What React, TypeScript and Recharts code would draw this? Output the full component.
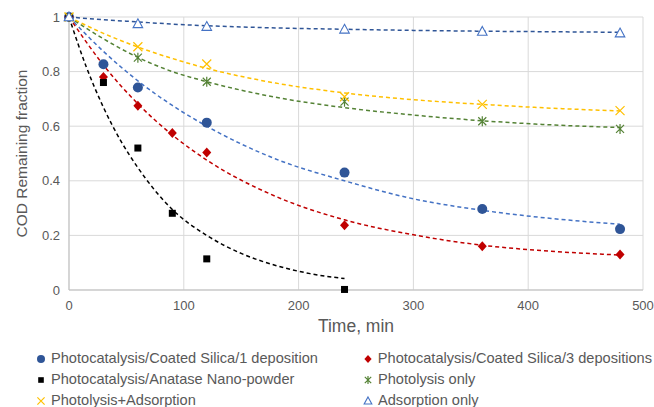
import React from "react";
import {
  ComposedChart,
  Scatter,
  Line,
  XAxis,
  YAxis,
  CartesianGrid,
  Legend,
} from "recharts";

// measured points
const timesCoated1 = [0, 30, 60, 120, 240, 360, 480];
const coated1 = [1, 0.827, 0.742, 0.613, 0.43, 0.297, 0.223];
const timesCoated3 = [0, 30, 60, 90, 120, 240, 360, 480];
const coated3 = [1, 0.78, 0.675, 0.575, 0.504, 0.237, 0.16, 0.13];
const timesAnatase = [0, 30, 60, 90, 120, 240];
const anatase = [1, 0.76, 0.52, 0.281, 0.114, 0.002];
const timesOther = [0, 60, 120, 240, 360, 480];
const photolysis = [1, 0.851, 0.763, 0.69, 0.618, 0.59];
const photoAds = [1, 0.891, 0.828, 0.708, 0.68, 0.657];
const adsorption = [1, 0.975, 0.965, 0.955, 0.947, 0.941];

// trend lines
const trendTimes = [0, 30, 60, 90, 120, 180, 240, 300, 360, 420, 480];
const coated1Trend = [1, 0.874, 0.766, 0.676, 0.6, 0.48, 0.4, 0.334, 0.292, 0.262, 0.241];
const coated3Trend = [1, 0.824, 0.682, 0.568, 0.476, 0.343, 0.257, 0.202, 0.164, 0.142, 0.128];
const photolysisTrend = [1, 0.92, 0.852, 0.8, 0.763, 0.706, 0.668, 0.641, 0.62, 0.605, 0.595];
const photoAdsTrend = [1, 0.94, 0.89, 0.848, 0.812, 0.758, 0.722, 0.697, 0.68, 0.666, 0.656];
const adsorptionTrend = [1, 0.99, 0.982, 0.974, 0.968, 0.96, 0.955, 0.951, 0.948, 0.946, 0.944];
const anataseTrendTimes = [0, 15, 30, 45, 60, 90, 120, 150, 180, 210, 240];
const anataseTrend = [1, 0.818, 0.669, 0.547, 0.448, 0.295, 0.2, 0.134, 0.09, 0.06, 0.042];

const xTicks = [0, 100, 200, 300, 400, 500];
const yTicks = [0, 0.2, 0.4, 0.6, 0.8, 1];

const pts = (xs: number[], ys: number[]) => xs.map((x, i) => ({ x, y: ys[i] }));

const FONT = "'Liberation Sans Narrow', 'Liberation Sans', sans-serif";
const TEXT = "#595959";

type Mark = "circle" | "diamond" | "square" | "star" | "cross" | "triangle";

function marker(kind: Mark, color: string, cx: number, cy: number, s = 1) {
  switch (kind) {
    case "circle":
      return <circle cx={cx} cy={cy} r={5 * s} fill={color} />;
    case "diamond":
      return (
        <path
          d={`M${cx},${cy - 5 * s}L${cx + 4.5 * s},${cy}L${cx},${cy + 5 * s}L${cx - 4.5 * s},${cy}Z`}
          fill={color}
        />
      );
    case "square":
      return <rect x={cx - 3.5 * s} y={cy - 3.5 * s} width={7 * s} height={7 * s} fill={color} />;
    case "star":
      return (
        <path
          d={`M${cx - 4 * s},${cy - 4 * s}L${cx + 4 * s},${cy + 4 * s}M${cx + 4 * s},${cy - 4 * s}L${cx - 4 * s},${cy + 4 * s}M${cx},${cy - 5 * s}L${cx},${cy + 5 * s}`}
          stroke={color}
          strokeWidth={1.2}
          fill="none"
        />
      );
    case "cross":
      return (
        <path
          d={`M${cx - 4.5 * s},${cy - 4.5 * s}L${cx + 4.5 * s},${cy + 4.5 * s}M${cx + 4.5 * s},${cy - 4.5 * s}L${cx - 4.5 * s},${cy + 4.5 * s}`}
          stroke={color}
          strokeWidth={1.2}
          fill="none"
        />
      );
    default:
      return (
        <path
          d={`M${cx},${cy - 5 * s}L${cx + 4.8 * s},${cy + 3.8 * s}L${cx - 4.8 * s},${cy + 3.8 * s}Z`}
          stroke={color}
          strokeWidth={1.1}
          fill="#fff"
        />
      );
  }
}

const series = [
  { name: "Photocatalysis/Coated Silica/1 deposition", kind: "circle" as Mark, color: "#2f5597", data: pts(timesCoated1, coated1) },
  { name: "Photocatalysis/Coated Silica/3 depositions", kind: "diamond" as Mark, color: "#c00000", data: pts(timesCoated3, coated3) },
  { name: "Photocatalysis/Anatase Nano-powder", kind: "square" as Mark, color: "#000000", data: pts(timesAnatase, anatase) },
  { name: "Photolysis only", kind: "star" as Mark, color: "#548235", data: pts(timesOther, photolysis) },
  { name: "Photolysis+Adsorption", kind: "cross" as Mark, color: "#ffc000", data: pts(timesOther, photoAds) },
  { name: "Adsorption only", kind: "triangle" as Mark, color: "#4472c4", data: pts(timesOther, adsorption) },
];

const trends = [
  { key: "t1", color: "#4472c4", data: pts(trendTimes, coated1Trend) },
  { key: "t3", color: "#c00000", data: pts(trendTimes, coated3Trend) },
  { key: "ta", color: "#000000", data: pts(anataseTrendTimes, anataseTrend) },
  { key: "tp", color: "#548235", data: pts(trendTimes, photolysisTrend) },
  { key: "tpa", color: "#ffc000", data: pts(trendTimes, photoAdsTrend) },
  { key: "tad", color: "#2f5597", data: pts(trendTimes, adsorptionTrend) },
];

function LegendBox() {
  return (
    <div
      style={{
        display: "grid",
        gridTemplateColumns: "327px 290px",
        fontFamily: FONT,
        fontSize: 14.6,
        lineHeight: "21px",
        color: TEXT,
        whiteSpace: "nowrap",
      }}
    >
      {series.map((s) => (
        <div key={s.name} style={{ display: "flex", alignItems: "center", height: 21 }}>
          <svg width={12} height={12} style={{ marginRight: 4 }}>
            {marker(s.kind, s.color, 6, 6, 0.8)}
          </svg>
          <span>{s.name}</span>
        </div>
      ))}
    </div>
  );
}

export default function App() {
  return (
    <div style={{ position: "absolute", left: 0, top: 0, width: 654, height: 407, background: "#fff" }}>
      <ComposedChart
        width={654}
        height={407}
        margin={{ top: 17, right: 11, left: 0, bottom: 72 }}
        style={{ fontFamily: FONT }}
      >
        <CartesianGrid stroke="#d9d9d9" />
        <XAxis
          type="number"
          dataKey="x"
          domain={[0, 500]}
          ticks={xTicks}
          height={45}
          tickLine={false}
          tickSize={0}
          tickMargin={11}
          axisLine={{ stroke: "#bfbfbf" }}
          tick={{ fill: TEXT, fontSize: 13 }}
          label={{ value: "Time, min", position: "insideBottom", offset: 3, fill: TEXT, fontSize: 17.5 }}
          allowDuplicatedCategory={false}
        />
        <YAxis
          type="number"
          dataKey="y"
          domain={[0, 1]}
          ticks={yTicks}
          width={69}
          tickLine={false}
          tickSize={0}
          tickMargin={9}
          axisLine={{ stroke: "#bfbfbf" }}
          tick={{ fill: TEXT, fontSize: 13 }}
          label={{
            value: "COD Remaining fraction",
            angle: -90,
            position: "insideLeft",
            offset: 21,
            fill: TEXT,
            fontSize: 15.5,
            style: { textAnchor: "middle" },
          }}
        />
        {trends.map((t) => (
          <Line
            key={t.key}
            data={t.data}
            dataKey="y"
            type="monotone"
            stroke={t.color}
            strokeWidth={1.5}
            strokeDasharray="4 3"
            dot={false}
            activeDot={false}
            legendType="none"
            isAnimationActive={false}
          />
        ))}
        {series.map((s) => (
          <Scatter
            key={s.name}
            name={s.name}
            data={s.data}
            isAnimationActive={false}
            shape={(p: any) => marker(s.kind, s.color, p.cx, p.cy)}
          />
        ))}
        <Legend
          layout="horizontal"
          verticalAlign="middle"
          align="center"
          wrapperStyle={{ position: "absolute", top: 348, left: 35, width: 619 }}
          content={() => <LegendBox />}
        />
      </ComposedChart>
    </div>
  );
}
